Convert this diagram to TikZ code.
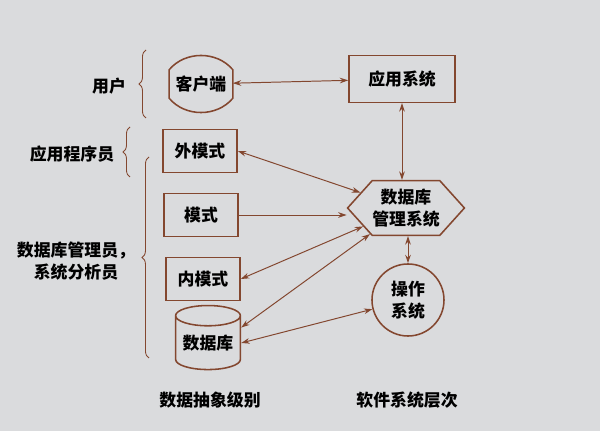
\documentclass[tikz,border=0pt]{standalone}
\usepackage{fontspec}
\setmainfont{Noto Sans CJK SC}
\usepackage{tikz}
\usetikzlibrary{arrows.meta, shapes.geometric, shapes.symbols, decorations.pathreplacing}
\definecolor{LineBrown}{HTML}{83472F}
\definecolor{PaperGrey}{HTML}{DADBDD}

\begin{document}
\begin{tikzpicture}[
                x=0.025cm, y=-0.025cm,
                font=\fontsize{12}{16}\selectfont\bfseries,
                box/.style={draw=LineBrown, line width=1.1pt, inner sep=0pt},
                level/.style={box, rectangle, minimum width=1.85cm, minimum height=1.07cm},
                link/.style={{Stealth[length=6pt,width=4pt]}-{Stealth[length=6pt,width=4pt]}, LineBrown, line width=0.7pt},
                onelink/.style={-{Stealth[length=6pt,width=4pt]}, LineBrown, line width=0.7pt},
                bracket/.style={decorate, decoration={brace, amplitude=5pt}, LineBrown, line width=0.6pt}
            ]

            \fill[PaperGrey] (0,0) rectangle (600,431);

            % software side
            \node[inner sep=0pt, minimum width=1.575cm, minimum height=0.7cm] (client) at (201,84) {客户端};
            \draw[box] (client.north west) to[bend left=50] (client.north east)
                -- (client.south east) to[bend left=50] (client.south west) -- cycle;
            \node[box, minimum width=2.65cm, minimum height=1.17cm] (app) at (402,79) {应用系统};
            \node[box, signal, signal to=west and east, signal from=nowhere, signal pointer angle=96,
                  minimum width=2.72cm, minimum height=1.37cm, align=center] (dbms) at (406,208) {数据库\\管理系统};
            \node[box, circle, minimum size=1.8cm, align=center] (os) at (408,300) {操作\\系统};

            % abstraction levels
            \node[level] (external) at (200,151) {外模式};
            \node[level] (schema) at (201,215) {模式};
            \node[level] (internal) at (203,279) {内模式};
            \node[box, cylinder, shape border rotate=90, aspect=0.4,
                  minimum width=1.62cm, minimum height=1.6cm] (db) at (208,343) {数据库};

            \draw[link] (client) -- (app);
            \draw[link] (app.south) -- (app.south |- dbms.north);
            \draw[link] (external.east) -- (dbms);
            \draw[onelink] (schema.east) -- (schema.east -| dbms.west);
            \draw[link] (internal.east) -- (dbms);
            \draw[link] (db.25) -- (dbms);
            \draw[link] (db.east) -- (os);
            \draw[link] (dbms.south -| os.north) -- (os.north);

            % roles
            \draw[bracket] (146,118) -- (146,50);
            \draw[bracket] (130,177) -- (130,127);
            \draw[bracket] (149,358) -- (149,157);
            \node (user) at (109,86) {用户};
            \node (programmer) at (72,154) {应用程序员};
            \node[align=center] (dba) at (76,261) {数据库管理员，\\系统分析员};

            \node (levelcap) at (210,400) {数据抽象级别};
            \node (layercap) at (407,400) {软件系统层次};

        \end{tikzpicture}
\end{document}
